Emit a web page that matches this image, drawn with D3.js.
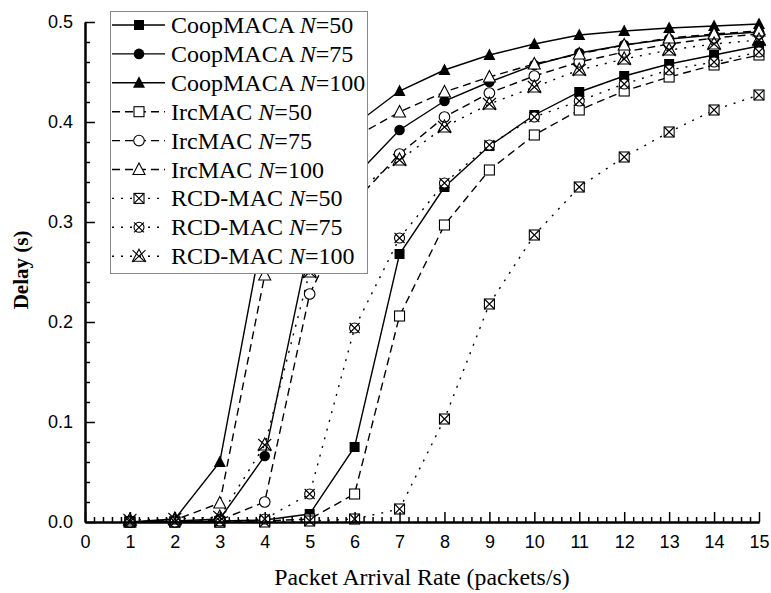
<!DOCTYPE html>
<html><head><meta charset="utf-8">
<script src="https://cdn.jsdelivr.net/npm/d3@7"></script>
<style>body{margin:0;background:#fff}svg{display:block}</style>
</head><body>
<svg id="c" width="771" height="593"></svg>
<script>
const rates = [1,2,3,4,5,6,7,8,9,10,11,12,13,14,15];
const xTicks = [0,1,2,3,4,5,6,7,8,9,10,11,12,13,14,15];
const yTicks = [0.0,0.1,0.2,0.3,0.4,0.5];
const coop50  = [0,0,0.001,0.002,0.008,0.075,0.268,0.335,0.376,0.407,0.430,0.446,0.458,0.467,0.476];
const coop75  = [0,0.001,0.003,0.066,0.280,0.345,0.392,0.421,0.440,0.457,0.469,0.477,0.483,0.487,0.490];
const coop100 = [0,0.003,0.060,0.300,0.370,0.397,0.431,0.452,0.467,0.478,0.487,0.491,0.494,0.496,0.498];
const irc50   = [0,0,0,0.001,0.003,0.028,0.206,0.297,0.352,0.387,0.412,0.431,0.445,0.457,0.467];
const irc75   = [0,0,0.002,0.020,0.228,0.320,0.368,0.405,0.429,0.446,0.460,0.470,0.478,0.484,0.488];
const irc100  = [0,0.002,0.019,0.247,0.330,0.385,0.410,0.430,0.445,0.458,0.468,0.477,0.484,0.488,0.491];
const rcd50   = [0,0,0,0,0.001,0.003,0.013,0.103,0.218,0.287,0.335,0.365,0.390,0.412,0.427];
const rcd75   = [0,0,0.001,0.003,0.028,0.194,0.284,0.339,0.377,0.405,0.421,0.438,0.452,0.460,0.470];
const rcd100  = [0.002,0.003,0.005,0.077,0.250,0.330,0.362,0.395,0.418,0.435,0.452,0.463,0.472,0.478,0.482];

const seriesNames = ["CoopMACA","CoopMACA","CoopMACA","IrcMAC","IrcMAC","IrcMAC","RCD-MAC","RCD-MAC","RCD-MAC"];
const seriesN = ["50","75","100","50","75","100","50","75","100"];
const seriesValues = [coop50,coop75,coop100,irc50,irc75,irc100,rcd50,rcd75,rcd100];
const seriesMarker = ["squareF","circleF","triF","square","circle","tri","boxx","circx","trix"];
const seriesDash = [null,null,null,"8,5","8,5","8,5","2,7","2,7","2,7"];

const svg = d3.select("#c");
const x = d3.scaleLinear().domain([0,15]).range([85,759]);
const y = d3.scaleLinear().domain([0,0.5]).range([522,22]);

// lines
const line = d3.line().x(d=>x(d[0])).y(d=>y(d[1]));
const gL = svg.append("g");
seriesValues.forEach((vals,i)=>{
  const pts = rates.map((r,j)=>[r,vals[j]]);
  gL.append("path").datum(pts).attr("d",line)
    .attr("fill","none").attr("stroke","#000").attr("stroke-width",1.4)
    .attr("stroke-dasharray",seriesDash[i]);
});

function drawMarker(g, type, cx, cy){
  const s = 5;
  const m = g.append("g").attr("transform",`translate(${cx},${cy})`);
  const stroke = {stroke:"#000","stroke-width":1.1};
  const app = (el, attrs)=>{ const e=m.append(el); Object.entries(attrs).forEach(([k,v])=>e.attr(k,v)); return e; };
  if(type==="squareF") app("rect",{x:-s,y:-s,width:2*s,height:2*s,fill:"#000"});
  if(type==="circleF") app("circle",{r:s+0.3,fill:"#000"});
  if(type==="triF") app("path",{d:`M0,${-s-1.5}L${s+1},${s}L${-s-1},${s}Z`,fill:"#000"});
  if(type==="square") app("rect",{x:-s,y:-s,width:2*s,height:2*s,fill:"#fff",...stroke});
  if(type==="circle") app("circle",{r:s+0.3,fill:"#fff",...stroke});
  if(type==="tri") app("path",{d:`M0,${-s-1.5}L${s+1},${s}L${-s-1},${s}Z`,fill:"#fff",...stroke});
  if(type==="boxx"){
    app("rect",{x:-s,y:-s,width:2*s,height:2*s,fill:"#fff",...stroke});
    app("path",{d:`M${-s},${-s}L${s},${s}M${s},${-s}L${-s},${s}`,fill:"none",...stroke});
  }
  if(type==="circx"){
    app("circle",{r:s,fill:"#fff",...stroke});
    app("path",{d:`M${-s},${-s}L${s},${s}M${s},${-s}L${-s},${s}`,fill:"none",...stroke});
  }
  if(type==="trix"){
    app("path",{d:`M0,${-s-2}L${s+1.5},${s}L${-s-1.5},${s}Z`,fill:"none",...stroke});
    app("path",{d:`M${-s-1.5},${-s-1}L${s+1.5},${s+1}M${s+1.5},${-s-1}L${-s-1.5},${s+1}`,fill:"none",...stroke});
  }
}
const gM = svg.append("g");
seriesValues.forEach((vals,i)=>{
  rates.forEach((r,j)=> drawMarker(gM, seriesMarker[i], x(r), y(vals[j])));
});

// axes
const minorX = d3.range(0,15.001,0.2).filter(v=>Math.abs(v-Math.round(v))>1e-6);
const minorY = d3.range(0,0.5001,0.02).filter(v=>Math.abs(v*10-Math.round(v*10))>1e-6);
const axX = svg.append("g").attr("transform","translate(0,522)")
  .call(d3.axisBottom(x).tickValues(xTicks).tickFormat(d3.format("d")).tickSizeInner(-10).tickSizeOuter(0).tickPadding(13));
const axXm = svg.append("g").attr("transform","translate(0,522)")
  .call(d3.axisBottom(x).tickValues(minorX).tickFormat("").tickSizeInner(-5).tickSizeOuter(0));
const axY = svg.append("g").attr("transform","translate(85,0)")
  .call(d3.axisLeft(y).tickValues(yTicks).tickFormat(d3.format(".1f")).tickSizeInner(-10).tickSizeOuter(0).tickPadding(12));
const axYm = svg.append("g").attr("transform","translate(85,0)")
  .call(d3.axisLeft(y).tickValues(minorY).tickFormat("").tickSizeInner(-5).tickSizeOuter(0));
[axX,axXm,axY,axYm].forEach(a=>{
  a.select(".domain").attr("stroke","#000").attr("stroke-width",2);
  a.selectAll(".tick line").attr("stroke","#000").attr("stroke-width",1.5);
  a.selectAll(".tick text").attr("font-family","'Liberation Sans', Arial, sans-serif").attr("font-size",18).attr("fill","#000");
});

// axis titles
svg.append("text").attr("x",422).attr("y",585).attr("text-anchor","middle")
  .attr("font-family","'Liberation Serif','Times New Roman',serif").attr("font-size",23.8)
  .text("Packet Arrival Rate (packets/s)");
svg.append("text").attr("transform","translate(28,270) rotate(-90)").attr("text-anchor","middle")
  .attr("font-family","'Liberation Serif','Times New Roman',serif").attr("font-size",21).attr("font-weight","bold")
  .text("Delay (s)");

// legend
const lg = svg.append("g");
lg.append("rect").attr("x",110.5).attr("y",11.5).attr("width",257).attr("height",262)
  .attr("fill","#fff").attr("stroke","#888").attr("stroke-width",1);
seriesNames.forEach((nm,i)=>{
  const ry = 25 + i*28.9;
  lg.append("line").attr("x1",112).attr("x2",165).attr("y1",ry).attr("y2",ry)
    .attr("stroke","#000").attr("stroke-width",1.4).attr("stroke-dasharray",seriesDash[i]);
  drawMarker(lg, seriesMarker[i], 139, ry);
  const t = lg.append("text").attr("x",171).attr("y",ry+8)
    .attr("font-family","'Liberation Serif','Times New Roman',serif").attr("font-size",24).attr("fill","#000");
  t.append("tspan").text(nm+" ");
  t.append("tspan").attr("font-style","italic").text("N");
  t.append("tspan").text("="+seriesN[i]);
});
</script>
</body></html>
